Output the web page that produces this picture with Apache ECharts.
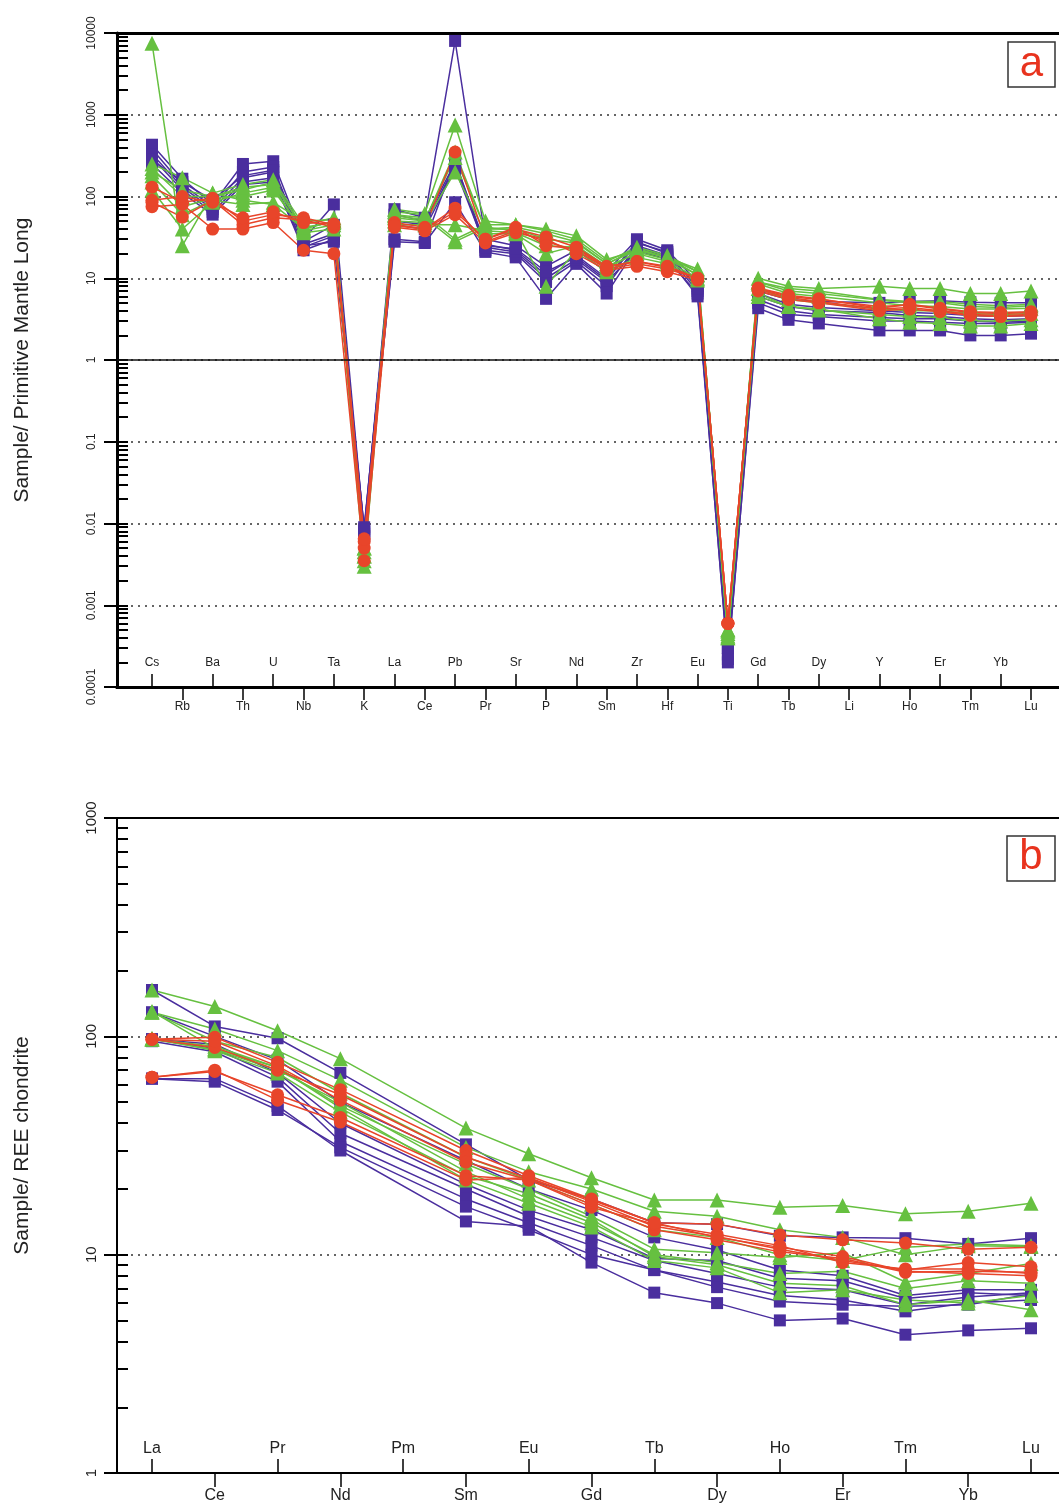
<!DOCTYPE html>
<html><head><meta charset="utf-8">
<script src="https://cdn.jsdelivr.net/npm/echarts@6/dist/echarts.min.js"></script>
<style>html,body{margin:0;padding:0;background:#fff}#c{width:1059px;height:1506px}</style>
</head><body><div id="c"></div>
<script>
// ---------- categories / tick labels ----------
const elemsA = ['Cs','Rb','Ba','Th','U','Nb','Ta','K','La','Ce','Pb','Pr','Sr','P','Nd','Sm','Zr','Hf','Eu','Ti','Gd','Tb','Dy','Li','Y','Ho','Er','Tm','Yb','Lu'];
const elemsB = ['La','Ce','Pr','Nd','Pm','Sm','Eu','Gd','Tb','Dy','Ho','Er','Tm','Yb','Lu'];
const yLabelsA = ['0.0001','0.001','0.01','0.1','1','10','100','1000','10000'];
const yLabelsB = ['1','10','100','1000'];

// ---------- panel a: Sample / Primitive Mantle (order = elemsA, Li not analysed) ----------
const pmP1 = [430,165,80,250,270,30,80,0.008,70,55,8000,30,25,14,22,12,30,22,9,0.00025,7,5.5,5.2,null,5,5.2,5.3,5.1,5,5];
const pmP2 = [380,140,75,200,230,26,35,0.007,60,50,260,26,22,11,19,10,28,20,8,0.0003,6,4.5,4,null,3.8,3.5,3.4,3.2,3.1,3.2];
const pmP3 = [330,130,70,170,200,24,33,0.0075,30,28,280,22,20,9,16,8,25,19,7,0.0002,5,3.6,3.4,null,3,3,2.9,2.8,2.8,2.9];
const pmP4 = [300,120,65,150,170,22,30,0.008,28,27,85,21,18,5.6,15,6.5,24,18,6,0.00022,4.3,3.1,2.8,null,2.3,2.3,2.3,2,2,2.1];
const pmP5 = [250,110,60,140,150,25,28,0.009,45,40,220,24,21,10,17,9,22,17,6.5,0.0003,5.5,4,3.6,null,3.3,3.2,3.2,3,2.9,3];
const pmP6 = [280,150,90,180,210,28,45,0.0085,50,45,240,25,23,12,18,9.5,27,21,7.5,0.00035,6.5,4.8,4.4,null,4,3.8,3.7,3.5,3.4,3.5];
const pmG1 = [7500,25,110,90,80,40,50,0.003,65,60,30,45,45,40,33,17,22,18,13,0.0004,10,8,7.5,null,8,7.5,7.5,6.5,6.5,7];
const pmG2 = [250,170,110,140,160,45,55,0.005,70,62,750,50,45,38,30,16,24,19,12,0.0005,9,7.5,7,null,5.5,5.2,5.2,4.8,4.6,4.8];
const pmG3 = [200,120,100,120,150,40,50,0.004,55,50,350,40,40,30,27,15,22,18,11,0.00045,8.5,6.5,6,null,5,4.6,4.5,4.2,4.2,4.3];
const pmG4 = [180,75,95,100,120,38,45,0.0045,50,48,200,35,35,20,25,14,20,16,10,0.0004,7.5,5.5,5,null,4.2,4,4,3.7,3.6,3.7];
const pmG5 = [150,60,90,80,85,50,52,0.0035,60,55,28,42,38,8,22,12,18,15,9.5,0.0005,6.5,4.5,4.1,null,3.6,3.4,3.3,3,3,3.1];
const pmG6 = [120,40,85,110,130,36,40,0.005,45,45,45,38,36,25,24,13,21,17,11,0.00042,6,4.5,4.2,null,3.2,2.9,2.8,2.6,2.6,2.8];
const pmG7 = [220,100,100,130,140,42,48,0.004,58,52,300,40,42,35,28,15,23,18,12,0.00048,9,7,6.5,null,5.4,5,5,4.5,4.4,4.6];
const pmR1 = [130,85,95,50,60,55,45,0.006,48,42,350,30,40,32,24,14,16,14,10,0.0006,7.5,6,5.5,null,4.5,4.7,4.2,3.8,3.7,3.8];
const pmR2 = [85,56,90,45,55,52,42,0.005,45,40,72,28,38,28,22,13,15,13,10,0.0006,7.3,5.8,5.2,null,4.2,4.4,4,3.6,3.5,3.6];
const pmR3 = [75,80,40,40,48,22,20,0.0035,42,38,60,27,36,30,20,12.5,14,12,9.5,0.0006,7,5.5,5,null,4,4.2,3.9,3.5,3.4,3.5];
const pmR4 = [90,100,85,55,65,48,46,0.0065,44,40,65,30,42,25,23,13.5,16,13.5,10,0.0006,7.6,6.2,5.6,null,4.3,4.8,4.3,3.9,3.8,3.9];

// ---------- panel b: Sample / REE chondrite (order = elemsB, Pm not analysed) ----------
const chP1 = [163,111,98,68,null,32,22,18,14,13.8,12.2,12,11.9,11.2,11.9];
const chP2 = [129,100,78,50,null,27,20,16,12,10.5,8.5,8,6.5,6.9,6.9];
const chP3 = [97,92,68,40,null,21,16,13,9.6,9.4,7.8,7.6,6.3,6.7,6.5];
const chP4 = [97,88,65,36,null,20,15,12,9.4,8.2,7.1,6.9,5.9,6.4,6.7];
const chP5 = [95,85,62,33,null,18,14,11,8.5,7.5,6.5,6.2,5.5,6,6.2];
const chP6 = [64,62,46,31,null,16.6,13,10,8.5,7.1,6.1,5.9,5.8,5.9,6.6];
const chP7 = [64,64,48,30,null,14.2,13.5,9.2,6.7,6,5,5.1,4.3,4.5,4.6];
const chG1 = [163,137,106,79,null,38,29,22.5,17.8,17.8,16.5,16.8,15.4,15.8,17.2];
const chG2 = [129,108,86,63,null,31,24,20,15.8,15,13,12,10,11,10.9];
const chG3 = [129,95,80,55,null,28,22,17,13,12,10,9.4,10.8,11.2,11];
const chG4 = [97,90,72,48,null,26,20,15,10.6,10.2,9.7,10.2,7.5,8.2,9.1];
const chG5 = [97,87,70,50,null,24,18,14,10,9.2,8.2,8.4,7,7.6,7.4];
const chG6 = [130,88,72,47,null,22,17.2,13.4,9.4,8.7,6.7,6.9,6.2,6,6.5];
const chG7 = [98,86,68,45,null,23,19,14.5,9.8,9,7.4,7.2,5.9,6.2,5.6];
const chR1 = [97,99,76,57,null,30,23,18,14,13.8,12.3,11.7,11.3,10.6,10.8];
const chR2 = [97,89,70,54,null,28,22.4,17.5,13.5,12.1,10.6,9.4,8.5,9.2,8.8];
const chR3 = [97,95,73,51,null,26.5,22,17,13,11.7,10.3,9.6,8.3,8.4,8.3];
const chR4 = [65,69,54,42.5,null,23,22,16.5,13.8,12.4,11,9.2,8.6,8.6,8.2];
const chR5 = [65,70,51,40.5,null,22,22.5,17.8,14,12,10.8,9.8,8.4,8.2,8];

const groupsA = {purple:[pmP1,pmP2,pmP3,pmP4,pmP5,pmP6], green:[pmG1,pmG2,pmG3,pmG4,pmG5,pmG6,pmG7], red:[pmR1,pmR2,pmR3,pmR4]};
const groupsB = {purple:[chP1,chP2,chP3,chP4,chP5,chP6,chP7], green:[chG1,chG2,chG3,chG4,chG5,chG6,chG7], red:[chR1,chR2,chR3,chR4,chR5]};

const STY = {
  purple:{color:'#4A2E9E', symbol:'rect', size:12},
  green:{color:'#66C040', symbol:'triangle', size:15},
  red:{color:'#E8452A', symbol:'circle', size:13}
};

const series = [];
function addGroups(groups, xi, yi){
  ['purple','green','red'].forEach(k=>{
    groups[k].forEach(arr=>{
      const s = STY[k];
      series.push({
        type:'line', xAxisIndex:xi, yAxisIndex:yi,
        data: arr.map((v,i)=> v==null ? null : [i,v]).filter(d=>d),
        symbol:s.symbol, symbolSize:s.size, showSymbol:true,
        lineStyle:{color:s.color, width:1.5},
        itemStyle:{color:s.color},
        silent:true, animation:false, z:3
      });
    });
  });
}
addGroups(groupsA, 0, 0);
addGroups(groupsB, 3, 2);

// solid reference line at 1 in panel a
series.push({type:'line', xAxisIndex:0, yAxisIndex:0, data:[], silent:true,
  markLine:{silent:true, symbol:'none', label:{show:false}, lineStyle:{type:'solid', color:'#111', width:1.5},
    data:[{yAxis:1}]}, z:2});

// minor tick positions for log axes
function logTicks(e0, e1){ const t=[]; for(let e=e0;e<e1;e++){ for(let m=1;m<10;m++) t.push(+(m*Math.pow(10,e)).toPrecision(6)); } t.push(Math.pow(10,e1)); return t; }

// geometry
const AL = 117, AT_A = 33, AB_A = 687, AT_B = 818, AB_B = 1473, W = 1059;
const x0 = 152, xLu = 1031;
const sA = (xLu-x0)/29, sB = (xLu-x0)/14;
const minA = -(x0-AL)/sA, maxA = 29 + (W-xLu)/sA;
const minB = -(x0-AL)/sB, maxB = 14 + (W-xLu)/sB;

const evenA = elemsA.map((_,i)=>i).filter(i=>i%2===0), oddA = elemsA.map((_,i)=>i).filter(i=>i%2===1);
const evenB = elemsB.map((_,i)=>i).filter(i=>i%2===0), oddB = elemsB.map((_,i)=>i).filter(i=>i%2===1);

const FONT = 'Liberation Sans, Arial, sans-serif';
function xAx(grid, min, max, vals, names, inside, len, margin, fs, lw){
  return {type:'value', gridIndex:grid, min, max, position:'bottom',
    axisLine:{show:true, onZero:false, lineStyle:{color:'#000', width:lw}},
    axisTick:{show:true, inside, length:len, customValues:vals, lineStyle:{color:'#000', width:1.5}},
    axisLabel:{show:true, inside, margin, customValues:vals, color:'#222', fontFamily:FONT, fontSize:fs,
      formatter:v=>names[Math.round(v)]},
    splitLine:{show:false}};
}
function topAx(grid, min, max, lw){
  return {type:'value', gridIndex:grid, min, max, position:'top',
    axisLine:{show:true, onZero:false, lineStyle:{color:'#000', width:lw}},
    axisTick:{show:false}, axisLabel:{show:false}, splitLine:{show:false}};
}
function yMain(grid, min, max, split, labels, e0, fs, margin, lw){
  return {type:'log', logBase:10, gridIndex:grid, min, max, splitNumber:split, position:'left',
    axisLine:{show:true, onZero:false, lineStyle:{color:'#000', width:lw}},
    axisTick:{show:true, inside:false, length:13, lineStyle:{color:'#000', width:2}},
    axisLabel:{show:true, rotate:90, margin, color:'#222', fontFamily:FONT, fontSize:fs,
      formatter:v=>labels[Math.round(Math.log10(v))-e0]},
    splitLine:{show:true, showMaxLine:false, lineStyle:{type:[2,5], color:'#333', width:1.5}},
    minorTick:{show:false}, minorSplitLine:{show:false}};
}
function yMinor(grid, min, max, vals){
  return {type:'log', logBase:10, gridIndex:grid, min, max, position:'left', offset:0,
    axisLine:{show:false, onZero:false}, axisLabel:{show:false}, splitLine:{show:false},
    axisTick:{show:true, inside:true, length:11, customValues:vals, lineStyle:{color:'#000', width:2}}};
}

const option = {
  animation:false,
  backgroundColor:'#fff',
  grid:[
    {left:AL, top:AT_A, width:W-AL, height:AB_A-AT_A, containLabel:false},
    {left:AL, top:AT_B, width:W-AL, height:AB_B-AT_B, containLabel:false}
  ],
  xAxis:[
    xAx(0, minA, maxA, evenA, elemsA, true, 13, 18, 12, 3),
    xAx(0, minA, maxA, oddA, elemsA, false, 13, 14, 12, 3),
    topAx(0, minA, maxA, 3),
    xAx(1, minB, maxB, evenB, elemsB, true, 14, 16, 16, 2),
    xAx(1, minB, maxB, oddB, elemsB, false, 14, 15, 16, 2),
    topAx(1, minB, maxB, 2)
  ],
  yAxis:[
    yMain(0, 0.0001, 10000, 8, yLabelsA, -4, 12, 19, 3),
    yMinor(0, 0.0001, 10000, logTicks(-4,4)),
    yMain(1, 1, 1000, 3, yLabelsB, 0, 15, 18, 2),
    yMinor(1, 1, 1000, logTicks(0,3))
  ],
  series,
  graphic:[
    {type:'text', x:22, y:(AT_A+AB_A)/2, rotation:Math.PI/2,
      style:{text:'Sample/ Primitive Mantle Long', font:'21px '+FONT, fill:'#222', textAlign:'center', textVerticalAlign:'middle'}},
    {type:'text', x:22, y:(AT_B+AB_B)/2, rotation:Math.PI/2,
      style:{text:'Sample/ REE chondrite', font:'21px '+FONT, fill:'#222', textAlign:'center', textVerticalAlign:'middle'}},
    {type:'rect', shape:{x:1008, y:42, width:47, height:45}, style:{fill:'#fff', stroke:'#333', lineWidth:1.5}, z:10},
    {type:'text', x:1031.5, y:64, style:{text:'a', font:'42px '+FONT, fill:'#E8331E', textAlign:'center', textVerticalAlign:'middle'}, z:11},
    {type:'rect', shape:{x:1007, y:836, width:48, height:45}, style:{fill:'#fff', stroke:'#333', lineWidth:1.5}, z:10},
    {type:'text', x:1031, y:857, style:{text:'b', font:'42px '+FONT, fill:'#E8331E', textAlign:'center', textVerticalAlign:'middle'}, z:11}
  ]
};
echarts.init(document.getElementById('c'), null, {renderer:'canvas'}).setOption(option);
</script></body></html>
